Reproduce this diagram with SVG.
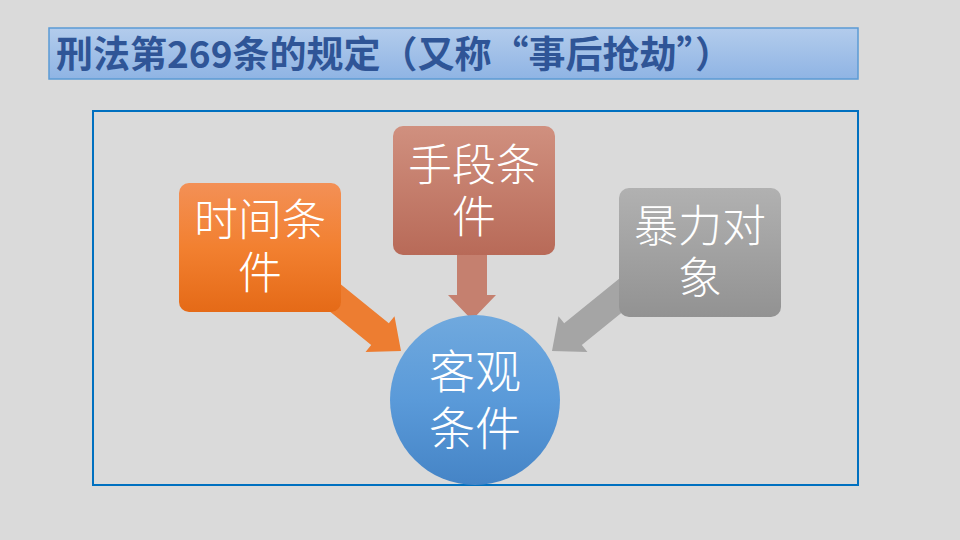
<svg xmlns="http://www.w3.org/2000/svg" width="960" height="540" viewBox="0 0 960 540">
<defs>
<linearGradient id="gTitle" x1="0" y1="0" x2="0" y2="1"><stop offset="0" stop-color="#B3CCEC"/><stop offset="1" stop-color="#8FB4E4"/></linearGradient>
<linearGradient id="gOrange" x1="0" y1="0" x2="0" y2="1"><stop offset="0" stop-color="#F39056"/><stop offset="0.5" stop-color="#F28030"/><stop offset="1" stop-color="#E56A17"/></linearGradient>
<linearGradient id="gRed" x1="0" y1="0" x2="0" y2="1"><stop offset="0" stop-color="#D0907F"/><stop offset="1" stop-color="#B86A58"/></linearGradient>
<linearGradient id="gGray" x1="0" y1="0" x2="0" y2="1"><stop offset="0" stop-color="#B1B1B1"/><stop offset="1" stop-color="#929292"/></linearGradient>
<linearGradient id="gBlue" x1="0" y1="0" x2="0" y2="1"><stop offset="0" stop-color="#70A9DE"/><stop offset="0.5" stop-color="#5A9AD9"/><stop offset="1" stop-color="#4584C6"/></linearGradient>
</defs>
<style>
.node text{font-family:"Noto Sans CJK SC","Noto Sans",sans-serif;fill:#FFFFFF;text-anchor:middle;font-size:44px;font-weight:300}
.title{font-family:"Noto Sans CJK SC","Noto Sans",sans-serif;fill:#2F5597;font-size:37px;font-weight:bold}
</style>
<rect width="960" height="540" fill="#DADADA"/>
<g id="title">
<rect x="49" y="28" width="809" height="51" fill="url(#gTitle)" stroke="#5B9BD5" stroke-width="1.5"/>
<text class="title" x="56" y="68">刑法第269条的规定（又称“事后抢劫”）</text>
</g>
<rect id="frame" x="93" y="111" width="765" height="374" fill="none" stroke="#0070C0" stroke-width="2"/>
<g id="connectors">
<polygon transform="translate(401,351) rotate(39)" points="0,0 -27,-23 -27,-14 -110,-14 -110,14 -27,14 -27,23" fill="#ED7D31"/>
<polygon transform="translate(472,320) rotate(90)" points="0,0 -25,-24 -25,-15 -80,-15 -80,15 -25,15 -25,24" fill="#C5806F"/>
<polygon transform="translate(552,351) rotate(141)" points="0,0 -27,-23 -27,-14 -110,-14 -110,14 -27,14 -27,23" fill="#A5A5A5"/>
</g>
<g id="node-time" class="node">
<rect x="179" y="183" width="162" height="129" rx="10" fill="url(#gOrange)"/>
<text x="260" y="236">时间条</text>
<text x="260" y="289">件</text>
</g>
<g id="node-means" class="node">
<rect x="393" y="126" width="162" height="129" rx="10" fill="url(#gRed)"/>
<text x="474" y="181">手段条</text>
<text x="474" y="233">件</text>
</g>
<g id="node-object" class="node">
<rect x="619" y="188" width="162" height="129" rx="10" fill="url(#gGray)"/>
<text x="700" y="242">暴力对</text>
<text x="700" y="294">象</text>
</g>
<g id="node-objective" class="node">
<circle cx="475" cy="400" r="85" fill="url(#gBlue)"/>
<text x="475" y="388" style="font-size:46px">客观</text>
<text x="475" y="445" style="font-size:46px">条件</text>
</g>
</svg>
